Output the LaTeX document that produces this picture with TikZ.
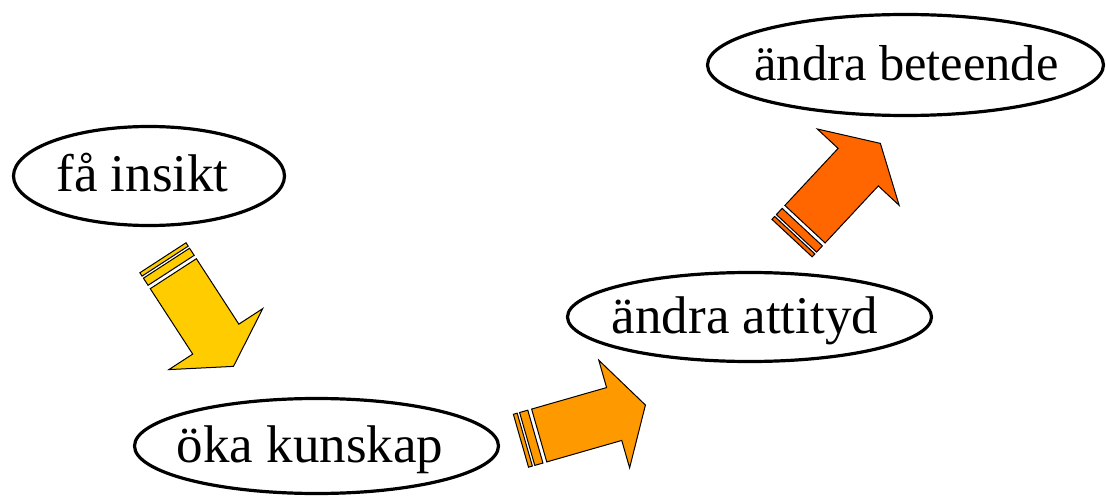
\documentclass[tikz,border=0pt]{standalone}
\usepackage{fontspec}
\setmainfont{Liberation Serif}
\usetikzlibrary{shapes.geometric}
\definecolor{arrowA}{HTML}{FFCC00}
\definecolor{arrowB}{HTML}{FF9900}
\definecolor{arrowC}{HTML}{FF6600}
\tikzset{
  oval/.style={ellipse, draw=black, line width=3.2pt, inner sep=0pt,
    font=\fontsize{53}{60}\selectfont, text height=42pt, text depth=10pt},
  sarrow/.pic={
    \filldraw[fill=#1, draw=black, line width=1pt, line join=miter]
      (-19,-27.5) rectangle (-15,27.5)
      (-12.5,-27.5) rectangle (-4,27.5)
      (0,-27.5) -- (78,-27.5) -- (78,-56) -- (110.5,0) -- (78,56) -- (78,27.5) -- (0,27.5) -- cycle;
  }
}
\begin{document}
\begin{tikzpicture}[x=1pt,y=1pt]
\useasboundingbox (0,0) rectangle (1106,-497);
\node[oval, minimum width=271pt, minimum height=99pt] (insikt) at (149,-176) {\makebox[0pt]{få insikt\kern13pt}};
\node[oval, minimum width=364pt, minimum height=95pt] (kunskap) at (316.5,-446) {\makebox[0pt]{öka kunskap\kern13pt}};
\node[oval, minimum width=364pt, minimum height=89pt] (attityd) at (749.5,-317) {\makebox[0pt]{ändra attityd\kern9pt}};
\node[oval, minimum width=396pt, minimum height=101pt, font=\fontsize{50.5}{60}\selectfont] (beteende) at (905.5,-65) {\makebox[0pt]{\kern2pt ändra beteende}};
\pic[rotate=-57] at (173.3,-273.7) {sarrow=arrowA};
\pic[rotate=16] at (539.2,-435.5) {sarrow=arrowB};
\pic[rotate=47] at (805,-224.2) {sarrow=arrowC};
\end{tikzpicture}
\end{document}
